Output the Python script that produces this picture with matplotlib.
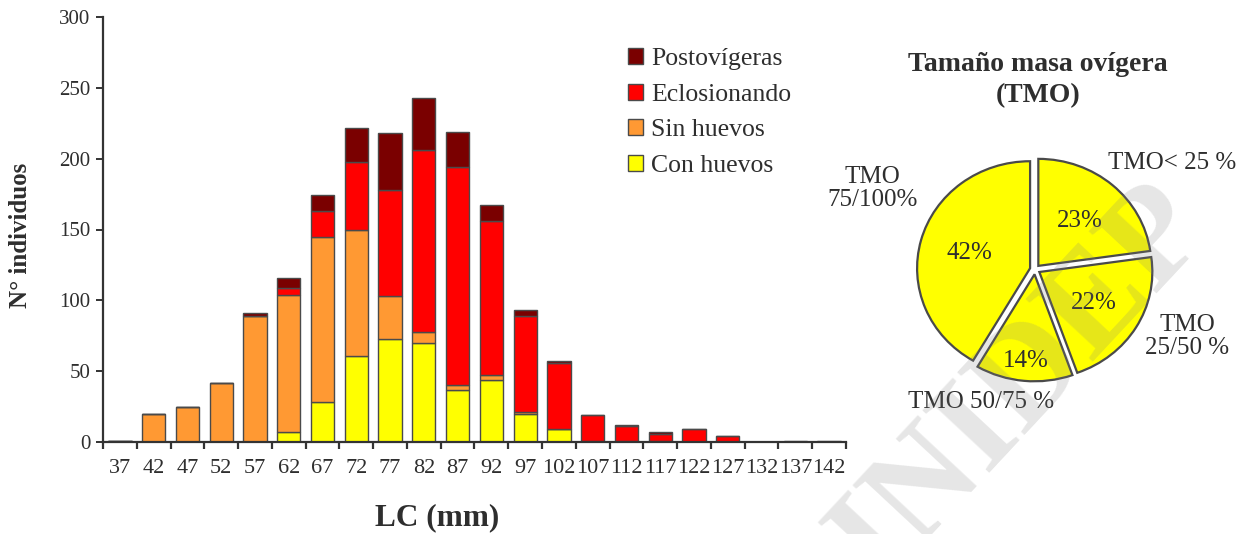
import numpy as np
import matplotlib
matplotlib.use("Agg")
import matplotlib.pyplot as plt

plt.rcParams['font.family'] = ['Liberation Serif', 'DejaVu Serif']

# Length classes (LC, mm)
lc_classes = ['37', '42', '47', '52', '57', '62', '67', '72', '77', '82', '87',
              '92', '97', '102', '107', '112', '117', '122', '127', '132', '137', '142']

# Number of females per class and reproductive stage
con_huevos    = [0, 0, 0, 0, 0, 7, 28, 61, 73, 70, 37, 44, 20, 9, 0, 0, 0, 0, 0, 0, 0, 0]
sin_huevos    = [1, 20, 25, 42, 89, 97, 117, 89, 30, 8, 3, 3, 1, 0, 1, 1, 1, 0, 0, 0, 0, 0]
eclosionando  = [0, 0, 0, 0, 0, 5, 18, 48, 75, 128, 154, 109, 68, 47, 18, 10, 5, 9, 4, 0, 0, 0]
postovigeras  = [0, 0, 0, 0, 2, 7, 11, 24, 40, 37, 25, 11, 4, 1, 0, 1, 1, 0, 0, 0, 1, 1]

stage_names = ['Con huevos', 'Sin huevos', 'Eclosionando', 'Postovígeras']
stage_colors = ['#FFFF00', '#FF9933', '#FF0000', '#7A0000']

# Egg mass size (TMO) shares
tmo_labels = ['TMO< 25 %', 'TMO\n25/50 %', 'TMO 50/75 %', 'TMO\n75/100%']
tmo_values = [23, 22, 14, 42]

text_color = '#2e2e2e'
edge_color = '#4a4a4a'

W, H = 1246, 534
fig = plt.figure(figsize=(W / 100, H / 100), dpi=100)

# ---------------- stacked bar chart ----------------
x0, x1, ytop, ybot = 103, 846, 17, 442
ax = fig.add_axes([x0 / W, 1 - ybot / H, (x1 - x0) / W, (ybot - ytop) / H])

xpos = np.arange(len(lc_classes))
bottom = np.zeros(len(lc_classes))
handles = []
for vals, name, col in zip([con_huevos, sin_huevos, eclosionando, postovigeras],
                           stage_names, stage_colors):
    vals = np.array(vals, dtype=float)
    b = ax.bar(xpos, vals, width=0.69, bottom=bottom, color=col,
               edgecolor=edge_color, linewidth=1.0, label=name, zorder=2)
    handles.append(b)
    bottom += vals

ax.set_xlim(-0.5, len(lc_classes) - 0.5)
ax.set_ylim(0, 300)
ax.set_yticks(np.arange(0, 301, 50))
ax.set_xticks(xpos)
ax.set_xticklabels(lc_classes)
ax.set_xticks(np.arange(-0.5, len(lc_classes)), minor=True)
ax.tick_params(axis='x', which='major', length=0, pad=12, labelsize=16, labelcolor=text_color)
ax.tick_params(axis='x', which='minor', length=5, width=1.6, color='#333333', direction='out')
ax.tick_params(axis='y', length=5, width=1.4, color='#333333', direction='out',
               labelsize=15, labelcolor=text_color, pad=4)

for s in ['top', 'right']:
    ax.spines[s].set_visible(False)
for s in ['left', 'bottom']:
    ax.spines[s].set_color('#333333')
    ax.spines[s].set_linewidth(1.6)

ax.set_ylabel('N° individuos', fontsize=18, fontweight='bold', color=text_color)
ax.yaxis.set_label_coords((20 - x0) / (x1 - x0), (ybot - 235) / (ybot - ytop))
ax.set_xlabel('LC (mm)', fontsize=22.5, fontweight='bold', color=text_color)
ax.xaxis.set_label_coords((437 - x0) / (x1 - x0), -(518 - ybot) / (ybot - ytop))
ax.xaxis.label.set_verticalalignment('center')
ax.yaxis.label.set_verticalalignment('center')

leg = ax.legend(handles[::-1], stage_names[::-1], loc='upper left',
                bbox_to_anchor=((628 - x0) / (x1 - x0), (ybot - 48) / (ybot - ytop)),
                frameon=False, fontsize=18.5,
                handlelength=0.6, handleheight=0.6, handletextpad=0.3,
                labelspacing=0.52, borderaxespad=0, borderpad=0)
for t in leg.get_texts():
    t.set_color(text_color)

# ---------------- pie chart ----------------
cx, cy, rx, ry = 1035, 269.5, 113, 107
px0, px1, py0, py1 = 850, 1246, 130, 445
pax = fig.add_axes([px0 / W, 1 - py1 / H, (px1 - px0) / W, (py1 - py0) / H])
wedges, _, autotexts = pax.pie(
    tmo_values, startangle=90, counterclock=False,
    colors=['#FFFF00'] * len(tmo_values), explode=[0.045] * len(tmo_values),
    autopct='%.0f%%', pctdistance=0.56,
    wedgeprops=dict(edgecolor=edge_color, linewidth=1.6),
    textprops=dict(fontsize=18, color=text_color))
pax.set_aspect('auto')
pax.set_xlim((px0 - cx) / rx, (px1 - cx) / rx)
pax.set_ylim(-(py1 - cy) / ry, (cy - py0) / ry)
pax.axis('off')

# the narrow 14 % wedge carries its label further out
x, y = autotexts[2].get_position()
autotexts[2].set_position((x * 1.42, y * 1.42))

label_pos = [(1.21, 1.0), (1.35, -0.63), (-0.48, -1.24), (-1.44, 0.76)]
for lab, (lx, ly) in zip(tmo_labels, label_pos):
    pax.text(lx, ly, lab, ha='center', va='center', fontsize=18,
             color=text_color, linespacing=1.05)

fig.text(1038 / W, 1 - 80 / H, 'Tamaño masa ovígera\n(TMO)', ha='center', va='center',
         fontsize=20, fontweight='bold', color=text_color, linespacing=1.35)

# publisher watermark
fig.text(1022 / W, 1 - 385 / H, 'INIDEP', ha='center', va='center', rotation=47,
         fontsize=100, fontweight='bold', color='#808080', alpha=0.2)

fig.savefig('out.png', dpi=100, facecolor='white')
